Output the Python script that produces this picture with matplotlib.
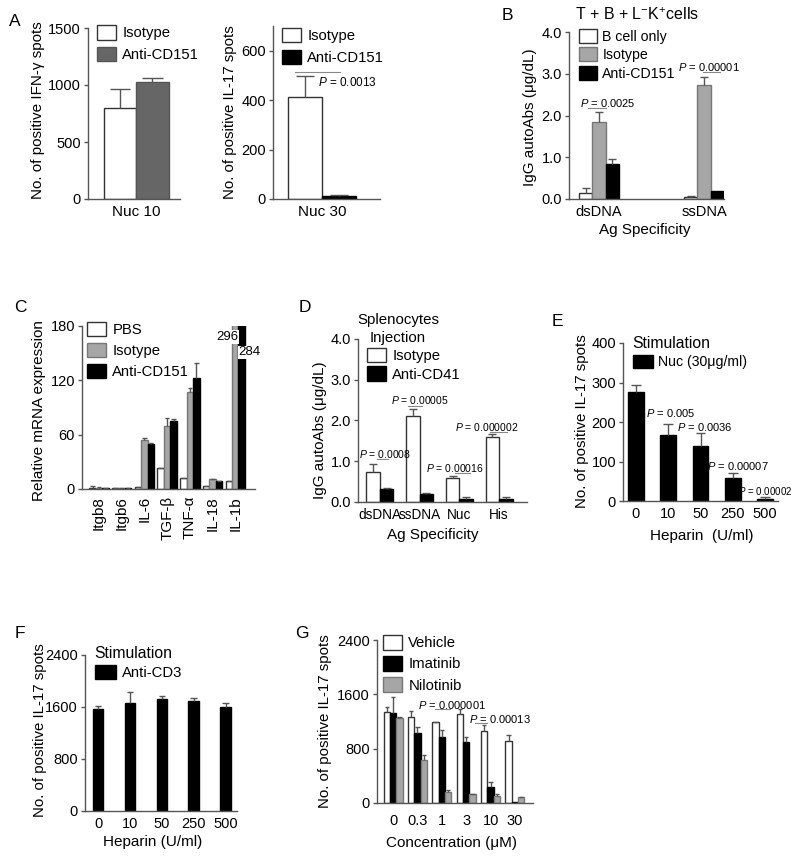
import matplotlib
matplotlib.use('Agg')
import matplotlib.pyplot as plt
import numpy as np
from matplotlib.patches import Patch
from matplotlib.lines import Line2D

plt.rcParams['font.family'] = ['Liberation Sans', 'DejaVu Sans']
plt.rcParams['mathtext.fontset'] = 'custom'
plt.rcParams['mathtext.rm'] = 'Liberation Sans'
plt.rcParams['mathtext.it'] = 'Liberation Sans:italic'
plt.rcParams['mathtext.bf'] = 'Liberation Sans:bold'

# ---------------- data ----------------
a1_groups = ['Nuc 10']
a1_iso = [798]
a1_iso_err = [165]
a1_anti = [1026]
a1_anti_err = [35]

a2_groups = ['Nuc 30']
a2_iso = [412]
a2_iso_err = [85]
a2_anti = [12]
a2_anti_err = [6]

b_groups = ['dsDNA', 'ssDNA']
b_bcell = [0.15, 0.05]
b_bcell_err = [0.12, 0.03]
b_iso = [1.85, 2.73]
b_iso_err = [0.23, 0.19]
b_anti = [0.85, 0.19]
b_anti_err = [0.10, 0.0]

c_genes = ['Itgb8', 'Itgb6', 'IL-6', 'TGF-β', 'TNF-α', 'IL-18', 'IL-1b']
c_pbs = [1, 1, 2, 23, 12, 3, 9]
c_pbs_err = [2, 0.3, 0.3, 0.3, 0.3, 0.3, 0.3]
c_iso = [1, 1, 54, 70, 107, 10.5, 296]
c_iso_err = [1, 0.3, 2, 8, 5, 0.5, 0]
c_anti = [0.8, 0.8, 50, 75, 123, 8.5, 284]
c_anti_err = [0.3, 0.3, 0.5, 2, 16, 0.5, 0]

d_groups = ['dsDNA', 'ssDNA', 'Nuc', 'His']
d_iso = [0.73, 2.10, 0.58, 1.60]
d_iso_err = [0.20, 0.18, 0.05, 0.06]
d_anti = [0.31, 0.20, 0.07, 0.07]
d_anti_err = [0.03, 0.03, 0.05, 0.05]

e_doses = ['0', '10', '50', '250', '500']
e_vals = [275, 168, 139, 58, 6]
e_err = [19, 28, 34, 13, 4]

f_doses = ['0', '10', '50', '250', '500']
f_vals = [1562, 1665, 1716, 1691, 1603]
f_err = [52, 159, 52, 51, 52]

g_conc = ['0', '0.3', '1', '3', '10', '30']
g_veh = [1347, 1273, 1190, 1307, 1063, 906]
g_veh_err = [73, 88, 10, 79, 88, 98]
g_ima = [1322, 1028, 965, 891, 230, 15]
g_ima_err = [235, 98, 112, 88, 74, 0]
g_nil = [1258, 627, 162, 127, 98, 83]
g_nil_err = [7, 83, 34, 10, 29, 5]

# ---------------- helpers ----------------
W, H = 800, 858
fig = plt.figure(figsize=(W / 100, H / 100), dpi=100)

SP = '#555555'
EDGE = '#333333'
GRAY = '#a6a6a6'
DGRAY = '#666666'
TICK = 10.5
LEG = 10.7
LAB = 10.8


def add_ax(l, t, r, b):
    return fig.add_axes([l / W, 1 - b / H, (r - l) / W, (b - t) / H])


def ftext(x, y, s, **kw):
    kw.setdefault('ha', 'left')
    kw.setdefault('va', 'center')
    return fig.text(x / W, 1 - y / H, s, **kw)


def fline(x1, x2, y, color='#888888', lw=0.8):
    fig.add_artist(Line2D([x1 / W, x2 / W], [1 - y / H, 1 - y / H],
                          transform=fig.transFigure, color=color, lw=lw))


def style(ax, ylim, yticks, fmt='{:g}'):
    for s in ['top', 'right']:
        ax.spines[s].set_visible(False)
    for s in ['left', 'bottom']:
        ax.spines[s].set_color(SP)
        ax.spines[s].set_linewidth(1)
    ax.set_ylim(*ylim)
    ax.set_yticks(yticks)
    ax.set_yticklabels([fmt.format(v) for v in yticks])
    ax.tick_params(axis='y', length=3, width=1, color=SP, pad=2, labelsize=TICK)
    ax.tick_params(axis='x', length=0, pad=4, labelsize=TICK)


def ebar(ax, x, y, e, cw):
    x = np.asarray(x, float)
    y = np.asarray(y, float)
    e = np.asarray(e, float)
    m = e > 0
    ax.vlines(x[m], y[m], y[m] + e[m], color=SP, lw=1)
    ax.hlines(y[m] + e[m], x[m] - cw, x[m] + cw, color=SP, lw=1)


def legend(ax, handles, labels, x, y, hl=1.3, hh=1.15, ls=0.45, tp=0.4, fs=LEG):
    ax.legend(handles, labels, loc='upper left', bbox_to_anchor=(x / W, 1 - y / H),
              bbox_transform=fig.transFigure, frameon=False, borderpad=0,
              borderaxespad=0, handlelength=hl, handleheight=hh,
              labelspacing=ls, handletextpad=tp, fontsize=fs)


def P(s):
    return r'$P$ = ' + s


p_white = Patch(facecolor='white', edgecolor=EDGE, lw=1)
p_black = Patch(facecolor='black', edgecolor='black', lw=1)
p_gray = Patch(facecolor=GRAY, edgecolor='#777777', lw=1)
p_dgray = Patch(facecolor=DGRAY, edgecolor='#555555', lw=1)

# ---------------- Panel A (left) ----------------
ax = add_ax(88, 28, 180, 199)
x = np.arange(len(a1_groups))
w = 0.35
ax.bar(x - w / 2, a1_iso, w, color='white', edgecolor=EDGE, lw=1)
ax.bar(x + w / 2, a1_anti, w, color=DGRAY, edgecolor='#555555', lw=1)
ebar(ax, x - w / 2, a1_iso, a1_iso_err, 0.11)
ebar(ax, x + w / 2, a1_anti, a1_anti_err, 0.11)
ax.set_xlim(-0.517, 0.473)
ax.set_xticks(x)
ax.set_xticklabels(a1_groups)
style(ax, (0, 1500), [0, 500, 1000, 1500])
ax.tick_params(axis='x', labelsize=11)
legend(ax, [p_white, p_dgray], ['Isotype', 'Anti-CD151'], 97, 25, hh=1.15, ls=0.42)
ftext(38, 110, 'No. of positive IFN-γ spots', rotation=90, ha='center', fontsize=11)
ftext(15, 22, 'A', ha='center', fontsize=12.5)

# ---------------- Panel A (right) ----------------
ax = add_ax(273, 26, 380, 199)
x = np.arange(len(a2_groups))
w = 0.35
ax.bar(x - w / 2, a2_iso, w, color='white', edgecolor=EDGE, lw=1)
ax.bar(x + w / 2, a2_anti, w, color='black', edgecolor='black', lw=1)
ebar(ax, x - w / 2, a2_iso, a2_iso_err, 0.09)
ebar(ax, x + w / 2, a2_anti, a2_anti_err, 0.09)
ax.set_xlim(-0.5, 0.59)
ax.set_xticks(x)
ax.set_xticklabels(a2_groups)
style(ax, (0, 700), [0, 200, 400, 600])
ax.tick_params(axis='x', labelsize=11)
legend(ax, [p_white, p_black], ['Isotype', 'Anti-CD151'], 282, 28, hh=1.05, ls=0.5)
fline(295, 340, 72)
ftext(318, 82, P('0.0013'), fontsize=8.5)
ftext(230, 112, 'No. of positive IL-17 spots', rotation=90, ha='center', fontsize=LAB)

# ---------------- Panel B ----------------
ax = add_ax(569, 32, 724, 199)
x = np.arange(len(b_groups))
w = 0.125
ax.bar(x - w, b_bcell, w, color='white', edgecolor=EDGE, lw=1)
ax.bar(x, b_iso, w, color=GRAY, edgecolor='#777777', lw=1)
ax.bar(x + w, b_anti, w, color='black', edgecolor='black', lw=1)
ebar(ax, x - w, b_bcell, b_bcell_err, 0.04)
ebar(ax, x, b_iso, b_iso_err, 0.04)
ebar(ax, x + w, b_anti, b_anti_err, 0.04)
ax.set_xlim(-0.286, 1.19)
ax.set_xticks(x)
ax.set_xticklabels(b_groups)
style(ax, (0, 4), [0, 1, 2, 3, 4], '{:.1f}')
legend(ax, [p_white, p_gray, p_black], ['B cell only', 'Isotype', 'Anti-CD151'],
       579, 29, hh=1.15, ls=0.25, fs=10.2, tp=0.35)
fline(588, 606, 108)
ftext(580, 103, P('0.0025'), fontsize=8)
fline(703, 720, 72)
ftext(678, 67, P('0.00001'), fontsize=8)
ftext(637, 15, r'T + B + L$^{-}$K$^{+}$cells', ha='center', fontsize=11.5)
ftext(530, 117, 'IgG autoAbs (μg/dL)', rotation=90, ha='center', fontsize=11)
ftext(645, 230, 'Ag Specificity', ha='center', fontsize=11)
ftext(507, 15, 'B', ha='center', fontsize=12.5)

# ---------------- Panel C ----------------
ax = add_ax(82, 326, 255, 489)
x = np.arange(len(c_genes))
w = 0.285
ax.bar(x - w, c_pbs, w, color='white', edgecolor=EDGE, lw=1)
ax.bar(x, c_iso, w, color=GRAY, edgecolor='#777777', lw=1)
ax.bar(x + w, c_anti, w, color='black', edgecolor='black', lw=1)
ebar(ax, x - w, c_pbs, c_pbs_err, 0.1)
ebar(ax, x, c_iso, c_iso_err, 0.1)
ebar(ax, x + w, c_anti, c_anti_err, 0.1)
ax.set_xlim(-0.75, 6.87)
ax.set_xticks(x)
ax.set_xticklabels(c_genes, rotation=90)
style(ax, (0, 180), [0, 60, 120, 180])
ax.tick_params(axis='x', pad=5, labelsize=11)
bb = dict(facecolor='white', edgecolor='none', pad=0.5)
ax.text(6 + w / 2, 168, str(c_iso[6]), ha='right', va='center', fontsize=9.5, bbox=bb)
ax.text(6 + w / 2, 151, str(c_anti[6]), ha='left', va='center', fontsize=9.5, bbox=bb)
legend(ax, [p_white, p_gray, p_black], ['PBS', 'Isotype', 'Anti-CD151'],
       87, 322, hh=1.1, ls=0.38)
ftext(39, 411, 'Relative mRNA expression', rotation=90, ha='center', fontsize=11)
ftext(20, 307, 'C', ha='center', fontsize=12.5)

# ---------------- Panel D ----------------
ax = add_ax(358, 339, 527, 502)
x = np.arange(len(d_groups))
w = 0.34
ax.bar(x - w / 2, d_iso, w, color='white', edgecolor=EDGE, lw=1)
ax.bar(x + w / 2, d_anti, w, color='black', edgecolor='black', lw=1)
ebar(ax, x - w / 2, d_iso, d_iso_err, 0.1)
ebar(ax, x + w / 2, d_anti, d_anti_err, 0.1)
ax.set_xlim(-0.55, 3.7)
ax.set_xticks(x)
ax.set_xticklabels(d_groups)
style(ax, (0, 4), [0, 1, 2, 3, 4], '{:.1f}')
ax.tick_params(axis='x', labelsize=9.8)
legend(ax, [p_white, p_black], ['Isotype', 'Anti-CD41'], 367, 348, hh=1.1, ls=0.22)
ftext(398, 320, 'Splenocytes', ha='center', fontsize=10.8)
ftext(398, 338, 'Injection', ha='center', fontsize=10.8)
fline(377, 388, 459)
ftext(359, 454, P('0.0008'), fontsize=7.5)
fline(408, 422, 406)
ftext(391, 400, P('0.00005'), fontsize=7.5)
fline(455, 470, 473)
ftext(426, 468, P('0.00016'), fontsize=7.5)
fline(490, 507, 432)
ftext(455, 427, P('0.000002'), fontsize=7.5)
ftext(320, 430, 'IgG autoAbs (μg/dL)', rotation=90, ha='center', fontsize=11)
ftext(433, 535, 'Ag Specificity', ha='center', fontsize=11)
ftext(305, 307, 'D', ha='center', fontsize=12.5)

# ---------------- Panel E ----------------
ax = add_ax(623, 343, 778, 501)
x = np.arange(len(e_doses))
w = 0.48
ax.bar(x, e_vals, w, color='black', edgecolor='black', lw=1)
ebar(ax, x, e_vals, e_err, 0.15)
ax.set_xlim(-0.4, 4.4)
ax.set_xticks(x)
ax.set_xticklabels(e_doses)
style(ax, (0, 400), [0, 100, 200, 300, 400])
ftext(632, 343, 'Stimulation', fontsize=11.3)
legend(ax, [p_black], ['Nuc (30μg/ml)'], 633, 355, hh=1.05, hl=1.4, fs=10.2)
ftext(646, 413, P('0.005'), fontsize=8)
ftext(677, 427, P('0.0036'), fontsize=8)
ftext(707, 466, P('0.00007'), fontsize=8)
ftext(738, 491, P('0.00002'), fontsize=7)
ftext(582, 421, 'No. of positive IL-17 spots', rotation=90, ha='center', fontsize=LAB)
ftext(702, 536, 'Heparin  (U/ml)', ha='center', fontsize=11)
ftext(557, 322, 'E', ha='center', fontsize=12.5)

# ---------------- Panel F ----------------
ax = add_ax(85, 655, 237, 811)
x = np.arange(len(f_doses))
w = 0.33
ax.bar(x, f_vals, w, color='black', edgecolor='black', lw=1)
ebar(ax, x, f_vals, f_err, 0.1)
ax.set_xlim(-0.41, 4.36)
ax.set_xticks(x)
ax.set_xticklabels(f_doses)
style(ax, (0, 2400), [0, 800, 1600, 2400])
ftext(94, 653, 'Stimulation', fontsize=11.3)
legend(ax, [p_black], ['Anti-CD3'], 95, 665, hh=1.05, hl=1.4)
ftext(40, 730, 'No. of positive IL-17 spots', rotation=90, ha='center', fontsize=LAB)
ftext(153, 842, 'Heparin (U/ml)', ha='center', fontsize=11)
ftext(20, 633, 'F', ha='center', fontsize=12.5)

# ---------------- Panel G ----------------
ax = add_ax(377, 640, 533, 803)
x = np.arange(len(g_conc))
w = 0.26
ax.bar(x - w, g_veh, w, color='white', edgecolor=EDGE, lw=1)
ax.bar(x, g_ima, w, color='black', edgecolor='black', lw=1)
ax.bar(x + w, g_nil, w, color=GRAY, edgecolor='#777777', lw=1)
ebar(ax, x - w, g_veh, g_veh_err, 0.09)
ebar(ax, x, g_ima, g_ima_err, 0.09)
ebar(ax, x + w, g_nil, g_nil_err, 0.09)
ax.set_xlim(-0.66, 5.74)
ax.set_xticks(x)
ax.set_xticklabels(g_conc)
style(ax, (0, 2400), [0, 800, 1600, 2400])
ax.tick_params(axis='x', pad=8)
legend(ax, [p_white, p_black, p_gray], ['Vehicle', 'Imatinib', 'Nilotinib'],
       383, 635, hh=1.15, ls=0.38)
fline(435, 450, 709)
ftext(418, 705, P('0.000001'), fontsize=8)
fline(475, 487, 723)
ftext(469, 719, P('0.00013'), fontsize=8)
ftext(325, 721, 'No. of positive IL-17 spots', rotation=90, ha='center', fontsize=LAB)
ftext(452, 843, 'Concentration (μM)', ha='center', fontsize=11)
ftext(302, 633, 'G', ha='center', fontsize=12.5)

fig.savefig('out.png', dpi=100)
